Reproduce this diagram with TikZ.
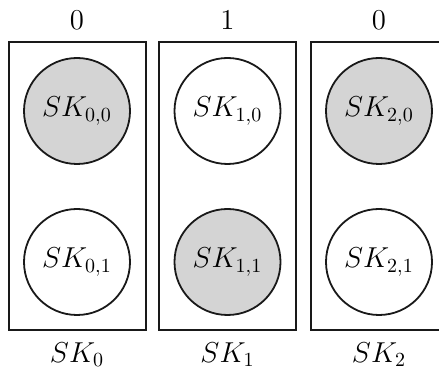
\documentclass[tikz,border=0pt]{standalone}
\usepackage{xcolor}
\usetikzlibrary{positioning}
\definecolor{keyshade}{gray}{0.83}
\definecolor{keyink}{gray}{0.1}

\begin{document}
\begin{tikzpicture}[
  x=0.5pt,y=0.5pt,
  frame/.style={draw=keyink,line width=1pt,minimum width=68.5pt,
    minimum height=144pt,inner sep=0pt},
  subkey/.style={circle,draw=keyink,line width=0.9pt,minimum size=53pt,
    inner sep=0pt,font=\Large},
  bit/.style={font=\Large},
  caption/.style={font=\Large},
]
  % The third frame runs off the page on the right, as in the figure.
  \clip (0,0) rectangle (439,369);
  \foreach \col/\cx/\up/\lo/\bitval in
      {0/77/keyshade/white/0, 1/227.5/white/keyshade/1, 2/379/keyshade/white/0} {
    \node[frame] (box\col) at (\cx,183) {};
    \node[subkey,fill=\up] (k\col0) at (\cx,258) {$SK_{\col,0}$};
    \node[subkey,fill=\lo] (k\col1) at (\cx,107) {$SK_{\col,1}$};
    \node[bit] (bit\col) at (\cx,349) {$\bitval$};
    \node[caption] (name\col) at (\cx,14) {$SK_{\col}$};
  }
\end{tikzpicture}
\end{document}
